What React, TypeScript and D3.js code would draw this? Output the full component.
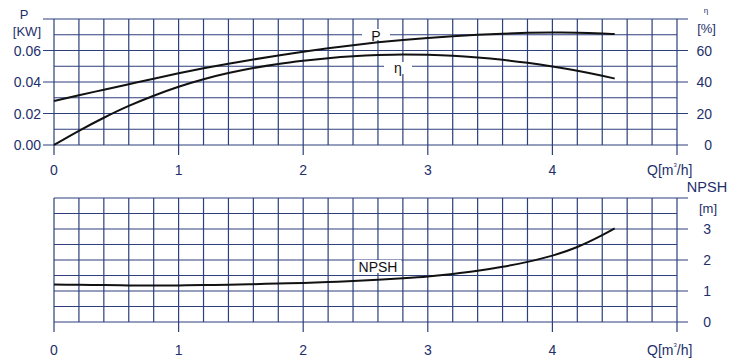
import React from "react";
import * as d3 from "d3";

// flow Q [m3/h]
const q = [0, 0.2, 0.4, 0.6, 0.8, 1.0, 1.2, 1.4, 1.6, 1.8, 2.0, 2.2, 2.4, 2.6, 2.8, 3.0, 3.2, 3.4, 3.6, 3.8, 4.0, 4.2, 4.4, 4.5];
// power P [kW]
const power = [0.028, 0.0316, 0.0351, 0.0386, 0.0421, 0.0455, 0.0487, 0.0516, 0.0543, 0.0568, 0.0592, 0.0614, 0.0634, 0.0652, 0.0667, 0.068, 0.0691, 0.07, 0.0707, 0.0712, 0.0714, 0.0713, 0.0708, 0.0704];
// efficiency eta [%]
const eta = [0, 9, 17.3, 24.8, 31.3, 37, 41.8, 45.7, 48.9, 51.5, 53.5, 55.1, 56.3, 57.1, 57.5, 57.3, 56.7, 55.6, 54.1, 52.2, 49.9, 47.2, 44, 42.2];
// NPSH [m]
const npsh = [1.21, 1.2, 1.19, 1.18, 1.175, 1.18, 1.19, 1.2, 1.22, 1.24, 1.26, 1.29, 1.32, 1.36, 1.41, 1.47, 1.55, 1.65, 1.78, 1.94, 2.14, 2.42, 2.8, 3.02];

const xTicks = [0, 1, 2, 3, 4];
const pTicks = [0, 0.02, 0.04, 0.06];
const etaTicks = [0, 20, 40, 60];
const npshTicks = [0, 1, 2, 3];

const gridCol = "#2d3f7c";
const textCol = "#1e2f6a";
const font = "Liberation Sans, Arial, sans-serif";

export default function App() {
  const x = d3.scaleLinear().domain([0, 5]).range([54, 677]);
  const yP = d3.scaleLinear().domain([0, 0.08]).range([145, 19]);
  const yEta = d3.scaleLinear().domain([0, 80]).range([145, 19]);
  const yN = d3.scaleLinear().domain([0, 4]).range([322, 198]);

  const vLines = d3.range(0, 26).map((i) => i * 0.2);
  const hTop = d3.range(0, 9).map((i) => i * 0.01);
  const hBot = d3.range(0, 9).map((i) => i * 0.5);

  const line = (ys: number[], yScale: d3.ScaleLinear<number, number>) =>
    d3
      .line<number>()
      .x((d, i) => x(q[i]))
      .y((d) => yScale(d))
      .curve(d3.curveMonotoneX)(ys) || "";

  const grid = (
    yScale: d3.ScaleLinear<number, number>,
    hs: number[],
    majors: number[],
    leftExt: boolean
  ) => (
    <g stroke={gridCol} strokeWidth={1.2}>
      {vLines.map((v, i) => (
        <line key={"v" + i} x1={x(v)} x2={x(v)} y1={yScale.range()[1]} y2={yScale.range()[0]} />
      ))}
      {hs.map((h, i) => {
        const major = majors.some((m) => Math.abs(m - h) < 1e-9);
        return (
          <line
            key={"h" + i}
            x1={major && leftExt ? 43 : 54}
            x2={major ? 688 : 677}
            y1={yScale(h)}
            y2={yScale(h)}
          />
        );
      })}
      {xTicks.concat([5]).map((t) => (
        <line key={"t" + t} x1={x(t)} x2={x(t)} y1={yScale.range()[0]} y2={yScale.range()[0] + 10} />
      ))}
    </g>
  );

  return (
    <svg
      width={732}
      height={360}
      style={{ position: "absolute", left: 0, top: 0, background: "#fff" }}
      fontFamily={font}
    >
      <rect width={732} height={360} fill="#fff" />
      {/* top chart */}
      {grid(yP, hTop, [...pTicks, 0.08], true)}
      <rect x={362} y={29} width={28} height={11} fill="#fff" />
      <rect x={384} y={62} width={28} height={12} fill="#fff" />
      <path d={line(power, yP)} fill="none" stroke="#111" strokeWidth={2} />
      <path d={line(eta, yEta)} fill="none" stroke="#111" strokeWidth={2} />
      <text x={376} y={41} fontSize={14} fill="#111" textAnchor="middle">P</text>
      <text x={398} y={73} fontSize={14} fill="#111" textAnchor="middle">η</text>

      <g fill={textCol} fontSize={14}>
        {pTicks.map((t) => (
          <text key={t} x={41} y={yP(t) + 5} textAnchor="end">{t.toFixed(2)}</text>
        ))}
        <text x={24} y={19} textAnchor="middle" fontSize={13}>P</text>
        <text x={41} y={36} textAnchor="end" fontSize={13}>[KW]</text>
        {etaTicks.map((t) => (
          <text key={t} x={712} y={yEta(t) + 5} textAnchor="end">{t}</text>
        ))}
        <text x={706} y={13} textAnchor="middle" fontSize={8}>η</text>
        <text x={716} y={33} textAnchor="end" fontSize={13}>[%]</text>
        {xTicks.map((t) => (
          <text key={t} x={x(t)} y={175} textAnchor="middle">{t}</text>
        ))}
        <text x={647} y={175}>
          Q[m<tspan fontSize={6} dy={-8}>3</tspan><tspan dy={8}>/h]</tspan>
        </text>
      </g>

      {/* bottom chart */}
      {grid(yN, hBot, npshTicks.concat([4]), false)}
      <rect x={355} y={260} width={46} height={13} fill="#fff" />
      <path d={line(npsh, yN)} fill="none" stroke="#111" strokeWidth={2} />
      <text x={378} y={272} fontSize={14} fill="#111" textAnchor="middle">NPSH</text>
      <g fill={textCol} fontSize={14}>
        {npshTicks.map((t) => (
          <text key={t} x={711} y={yN(t) + 5} textAnchor="end">{t}</text>
        ))}
        <text x={707} y={192} textAnchor="middle" fontSize={14.5}>NPSH</text>
        <text x={717} y={213} textAnchor="end" fontSize={13}>[m]</text>
        {xTicks.map((t) => (
          <text key={t} x={x(t)} y={355} textAnchor="middle">{t}</text>
        ))}
        <text x={647} y={355}>
          Q[m<tspan fontSize={6} dy={-8}>3</tspan><tspan dy={8}>/h]</tspan>
        </text>
      </g>
    </svg>
  );
}
